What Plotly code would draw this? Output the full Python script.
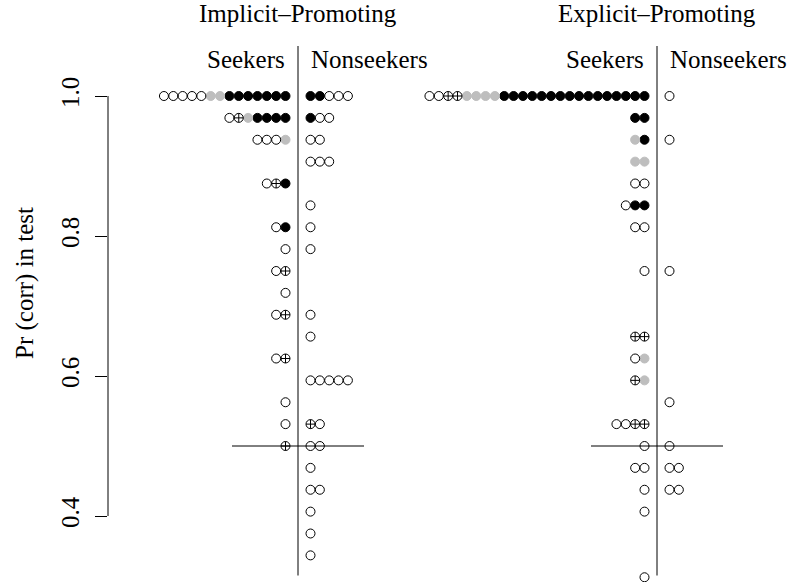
import plotly.graph_objects as go

# Proportion correct in test (32 trials) and participant counts per marker style
imp_seek_p = [1.0, 0.96875, 0.9375, 0.875, 0.8125, 0.78125, 0.75, 0.71875,
              0.6875, 0.625, 0.5625, 0.53125, 0.5]
imp_seek_filled = [7, 4, 0, 1, 1, 0, 0, 0, 0, 0, 0, 0, 0]
imp_seek_grey = [2, 1, 1, 0, 0, 0, 0, 0, 0, 0, 0, 0, 0]
imp_seek_crossed = [0, 1, 0, 1, 0, 0, 1, 0, 1, 1, 0, 0, 1]
imp_seek_open = [5, 1, 3, 1, 1, 1, 1, 1, 1, 1, 1, 1, 0]

imp_non_p = [1.0, 0.96875, 0.9375, 0.90625, 0.84375, 0.8125, 0.78125, 0.6875,
             0.65625, 0.59375, 0.53125, 0.5, 0.46875, 0.4375, 0.40625, 0.375, 0.34375]
imp_non_filled = [2, 1, 0, 0, 0, 0, 0, 0, 0, 0, 0, 0, 0, 0, 0, 0, 0]
imp_non_grey = [0] * 17
imp_non_crossed = [0, 0, 0, 0, 0, 0, 0, 0, 0, 0, 1, 0, 0, 0, 0, 0, 0]
imp_non_open = [3, 2, 2, 3, 1, 1, 1, 1, 1, 5, 1, 2, 1, 2, 1, 1, 1]

exp_seek_p = [1.0, 0.96875, 0.9375, 0.90625, 0.875, 0.84375, 0.8125, 0.75,
              0.65625, 0.625, 0.59375, 0.53125, 0.5, 0.46875, 0.4375, 0.40625, 0.3125]
exp_seek_filled = [16, 2, 1, 0, 0, 2, 0, 0, 0, 0, 0, 0, 0, 0, 0, 0, 0]
exp_seek_grey = [4, 0, 1, 2, 0, 0, 0, 0, 0, 1, 1, 0, 0, 0, 0, 0, 0]
exp_seek_crossed = [2, 0, 0, 0, 0, 0, 0, 0, 2, 0, 1, 2, 0, 0, 0, 0, 0]
exp_seek_open = [2, 0, 0, 0, 2, 1, 2, 1, 0, 1, 0, 2, 1, 2, 1, 1, 1]

exp_non_p = [1.0, 0.9375, 0.75, 0.5625, 0.5, 0.46875, 0.4375]
exp_non_filled = [0, 0, 0, 0, 0, 0, 0]
exp_non_grey = [0, 0, 0, 0, 0, 0, 0]
exp_non_crossed = [0, 0, 0, 0, 0, 0, 0]
exp_non_open = [1, 1, 1, 1, 1, 2, 2]

panel_titles = ["Implicit–Promoting", "Explicit–Promoting"]
side_labels = ["Seekers", "Nonseekers"]
y_ticks = [0.4, 0.6, 0.8, 1.0]
y_tick_text = ["0.4", "0.6", "0.8", "1.0"]
y_title = "Pr (corr) in test"
chance = 0.5

# Layout constants (x axis is in pixel-like units)
W, H = 788, 582
LEFT = 108
centers = [298, 657]
GAP = 12.5      # distance from divider to the first dot
STEP = 9.35     # spacing between stacked dots
Y_TOP = 1 + 96 / 700
Y_BOT = 1 - 486 / 700

FONT = "Liberation Serif, Times New Roman, serif"
FS = 25

styles = ["filled", "grey", "crossed", "open"]
marker_defs = {
    "filled": dict(symbol="circle", color="black", line=dict(color="black", width=1)),
    "grey": dict(symbol="circle", color="#BEBEBE", line=dict(color="#BEBEBE", width=1)),
    "crossed": dict(symbol="circle-cross-open", color="black", line=dict(color="black", width=1)),
    "open": dict(symbol="circle-open", color="black", line=dict(color="black", width=1)),
}

groups = [
    (centers[0], -1, imp_seek_p, [imp_seek_filled, imp_seek_grey, imp_seek_crossed, imp_seek_open]),
    (centers[0], 1, imp_non_p, [imp_non_filled, imp_non_grey, imp_non_crossed, imp_non_open]),
    (centers[1], -1, exp_seek_p, [exp_seek_filled, exp_seek_grey, exp_seek_crossed, exp_seek_open]),
    (centers[1], 1, exp_non_p, [exp_non_filled, exp_non_grey, exp_non_crossed, exp_non_open]),
]

pts = {s: ([], []) for s in styles}
for center, side, ps, counts in groups:
    for r, p in enumerate(ps):
        i = 0
        for s, cnt in zip(styles, counts):
            for _ in range(cnt[r]):
                pts[s][0].append(center + side * (GAP + i * STEP))
                pts[s][1].append(p)
                i += 1

fig = go.Figure()
for s in styles:
    m = dict(marker_defs[s])
    m["size"] = 9
    fig.add_trace(go.Scatter(x=pts[s][0], y=pts[s][1], mode="markers",
                             marker=m, cliponaxis=False, hoverinfo="skip"))

shapes = []
for c in centers:
    # divider between seekers and nonseekers
    shapes.append(dict(type="line", xref="x", yref="y", x0=c, x1=c,
                       y0=1 + (96 - 46) / 700, y1=0.315,
                       line=dict(color="black", width=1)))
    # chance level
    shapes.append(dict(type="line", xref="x", yref="y", x0=c - 66, x1=c + 66,
                       y0=chance, y1=chance, line=dict(color="black", width=1)))
# y axis line spanning the tick range
shapes.append(dict(type="line", xref="paper", yref="y", x0=0, x1=0,
                   y0=y_ticks[0], y1=y_ticks[-1], line=dict(color="black", width=1)))

annotations = []
for c, t in zip(centers, panel_titles):
    annotations.append(dict(x=c, y=1 + (96 - 13) / 700, xref="x", yref="y", text=t,
                            showarrow=False, xanchor="center", yanchor="middle",
                            font=dict(family=FONT, size=FS, color="black")))
    annotations.append(dict(x=c - 11, y=1 + (96 - 59) / 700, xref="x", yref="y",
                            text=side_labels[0], showarrow=False, xanchor="right",
                            yanchor="middle", font=dict(family=FONT, size=FS, color="black")))
    annotations.append(dict(x=c + 11, y=1 + (96 - 59) / 700, xref="x", yref="y",
                            text=side_labels[1], showarrow=False, xanchor="left",
                            yanchor="middle", font=dict(family=FONT, size=FS, color="black")))
annotations.append(dict(x=(25 - LEFT) / (W - LEFT), y=1 - 283 / H, xref="paper", yref="paper",
                        text=y_title, showarrow=False, textangle=-90,
                        xanchor="center", yanchor="middle",
                        font=dict(family=FONT, size=FS, color="black")))

fig.update_layout(
    width=W, height=H,
    margin=dict(l=LEFT, r=0, t=0, b=0),
    paper_bgcolor="white", plot_bgcolor="white",
    showlegend=False,
    xaxis=dict(range=[LEFT, W], visible=False, fixedrange=True),
    yaxis=dict(range=[Y_BOT, Y_TOP], showgrid=False, zeroline=False, showline=False,
               tickmode="array", tickvals=y_ticks, ticktext=y_tick_text,
               ticks="outside", ticklen=12, tickwidth=1, tickcolor="black",
               tickangle=-90, ticklabelstandoff=6,
               tickfont=dict(family=FONT, size=FS, color="black")),
    shapes=shapes,
    annotations=annotations,
)

fig.write_html("out.html")
